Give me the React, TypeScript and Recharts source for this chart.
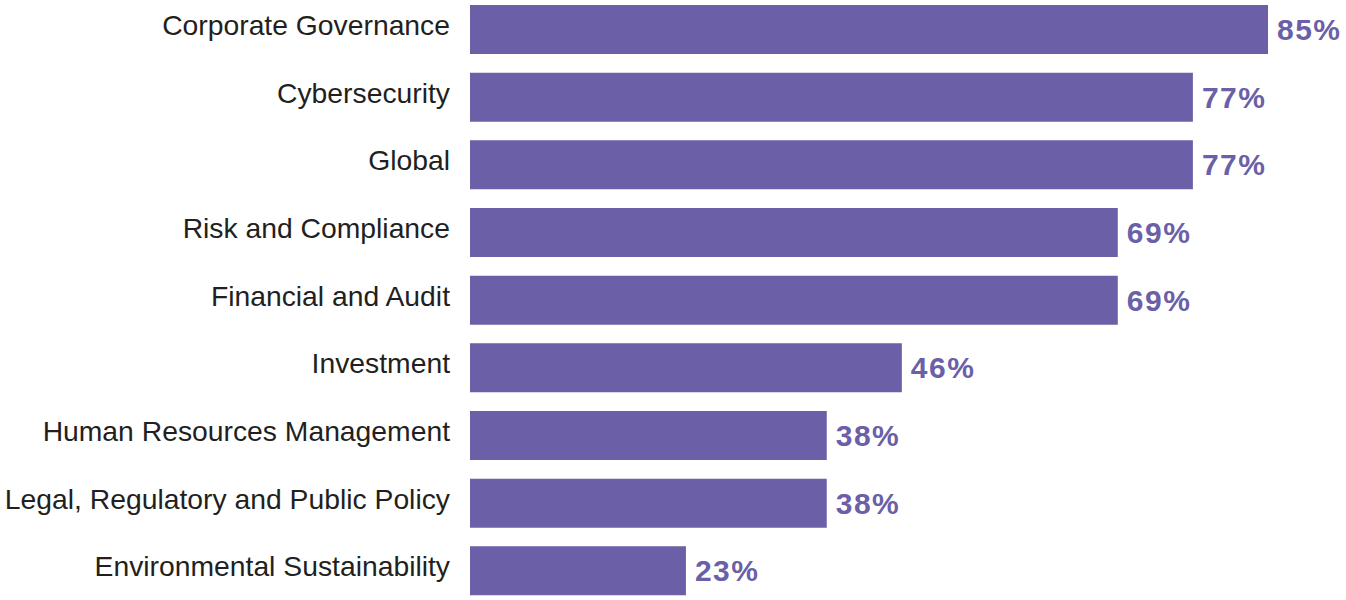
import React from 'react'
import { BarChart, Bar, XAxis, YAxis, LabelList } from 'recharts'

const categories = [
  'Corporate Governance',
  'Cybersecurity',
  'Global',
  'Risk and Compliance',
  'Financial and Audit',
  'Investment',
  'Human Resources Management',
  'Legal, Regulatory and Public Policy',
  'Environmental Sustainability'
]

const values = [85, 77, 77, 69, 69, 46, 38, 38, 23]

const chartData = categories.map((name, i) => ({ name, value: values[i] }))

const PURPLE = '#6B5FA8'
const FONT = '"Liberation Sans", Arial, Helvetica, sans-serif'

// category label on the left, nudged up a bit like the original
const CategoryTick = (props: any) => {
  const { x, y, payload } = props
  return (
    <text
      x={x}
      y={y - 5}
      dy="0.355em"
      textAnchor="end"
      fill="#231F20"
      fontSize={28.3}
      fontFamily={FONT}
    >
      {payload.value}
    </text>
  )
}

const App: React.FC = () => {
  return (
    <div style={{ position: 'absolute', left: 0, top: -4, width: 1346, height: 609 }}>
      <BarChart
        width={1346}
        height={609}
        data={chartData}
        layout="vertical"
        margin={{ top: 0, right: 78, bottom: 0, left: 0 }}
      >
        <XAxis type="number" domain={[0, 85]} hide />
        <YAxis
          type="category"
          dataKey="name"
          width={470}
          axisLine={false}
          tickLine={false}
          tickSize={0}
          tickMargin={20}
          interval={0}
          tick={<CategoryTick />}
        />
        <Bar dataKey="value" fill={PURPLE} barSize={49} isAnimationActive={false}>
          <LabelList
            dataKey="value"
            position="right"
            offset={9}
            formatter={(v: any) => `${v}%`}
            fill={PURPLE}
            fontSize={30}
            fontWeight="bold"
            letterSpacing={1.5}
            fontFamily={FONT}
          />
        </Bar>
      </BarChart>
    </div>
  )
}

export default App
